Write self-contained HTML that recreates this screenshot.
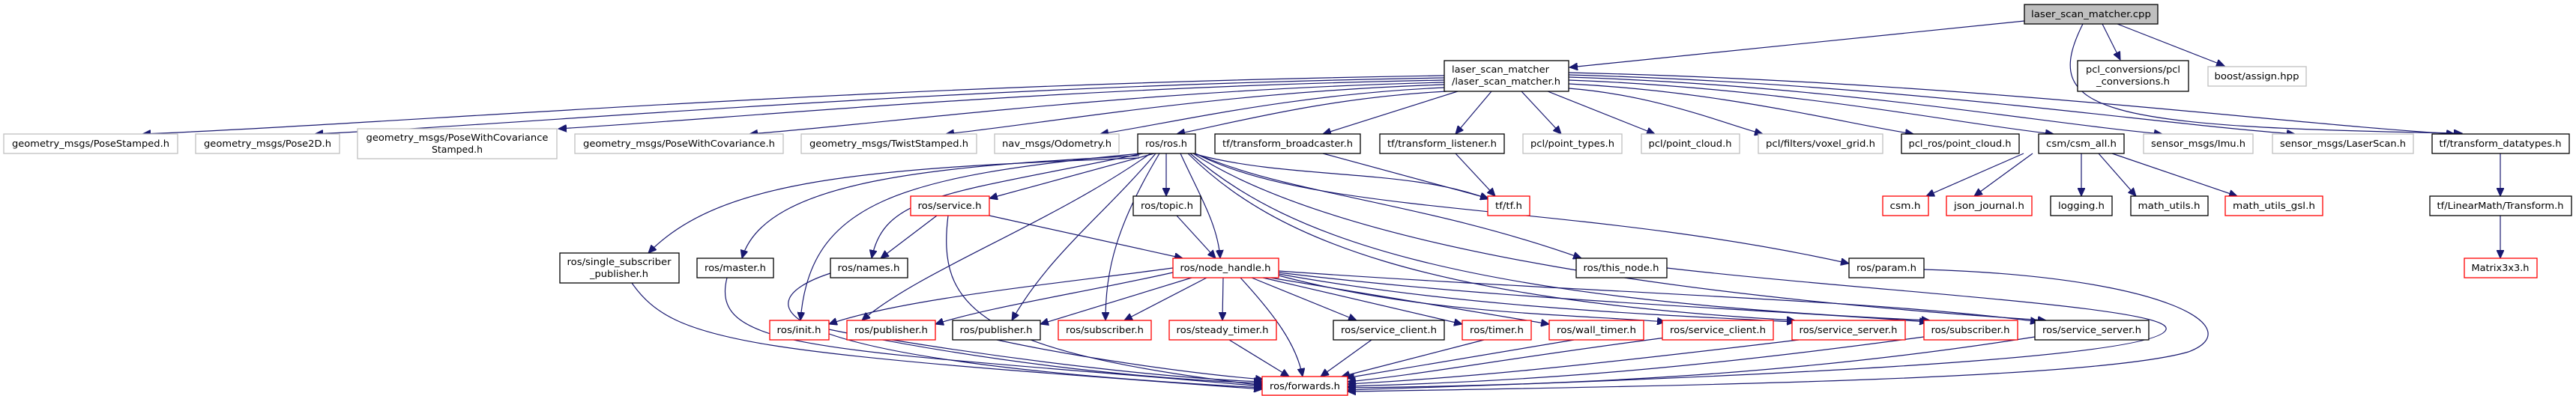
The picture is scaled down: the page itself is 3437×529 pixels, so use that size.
<!DOCTYPE html>
<html><head><meta charset="utf-8"><style>
html,body{margin:0;padding:0;background:#fff;}
svg{display:block;}
text{font-family:"DejaVu Sans","Liberation Sans",sans-serif;font-size:12px;fill:#000;}
.g{fill:#fff;stroke:#bfbfbf;stroke-width:1.3;}
.k{fill:#fff;stroke:#000;stroke-width:1.3;}
.r{fill:#fff;stroke:#ff0000;stroke-width:1.3;}
.e{fill:none;stroke:#191970;stroke-width:1.2;}
</style></head><body>
<svg id="s" width="3437" height="529" viewBox="0 0 3437 529" xmlns="http://www.w3.org/2000/svg">
<defs><marker id="a" markerUnits="userSpaceOnUse" markerWidth="12" markerHeight="10" refX="11" refY="5" orient="auto"><path d="M0,0 L11,5 L0,10 z" fill="#191970" stroke="#191970"/></marker></defs>
<g id="edges"></g>
<g id="nodes">
<rect x="2701" y="6" width="178" height="26" fill="#bfbfbf" stroke="#000" stroke-width="1.3"/><text x="2790" y="23" text-anchor="middle" textLength="160" lengthAdjust="spacingAndGlyphs">laser_scan_matcher.cpp</text>
<rect class="k" x="1927" y="81" width="166" height="41"/><text x="1937" y="97" textLength="130" lengthAdjust="spacingAndGlyphs">laser_scan_matcher</text><text x="1937" y="113" textLength="145" lengthAdjust="spacingAndGlyphs">/laser_scan_matcher.h</text>
<rect class="k" x="2772" y="81" width="148" height="41"/><text x="2846" y="97" text-anchor="middle" textLength="126" lengthAdjust="spacingAndGlyphs">pcl_conversions/pcl</text><text x="2846" y="113" text-anchor="middle" textLength="98" lengthAdjust="spacingAndGlyphs">_conversions.h</text>
<rect class="g" x="2946" y="89" width="131" height="26"/><text x="3011" y="106" text-anchor="middle" textLength="113" lengthAdjust="spacingAndGlyphs">boost/assign.hpp</text>

<rect class="g" x="5" y="179" width="232" height="26"/><text x="121" y="196" text-anchor="middle" textLength="210" lengthAdjust="spacingAndGlyphs">geometry_msgs/PoseStamped.h</text>
<rect class="g" x="261" y="179" width="192" height="26"/><text x="357" y="196" text-anchor="middle" textLength="170" lengthAdjust="spacingAndGlyphs">geometry_msgs/Pose2D.h</text>
<rect class="g" x="477" y="172" width="266" height="40"/><text x="610" y="188" text-anchor="middle" textLength="243" lengthAdjust="spacingAndGlyphs">geometry_msgs/PoseWithCovariance</text><text x="610" y="204" text-anchor="middle" textLength="68" lengthAdjust="spacingAndGlyphs">Stamped.h</text>
<rect class="g" x="767" y="179" width="278" height="26"/><text x="906" y="196" text-anchor="middle" textLength="256" lengthAdjust="spacingAndGlyphs">geometry_msgs/PoseWithCovariance.h</text>
<rect class="g" x="1069" y="179" width="234" height="26"/><text x="1186" y="196" text-anchor="middle" textLength="212" lengthAdjust="spacingAndGlyphs">geometry_msgs/TwistStamped.h</text>
<rect class="g" x="1327" y="179" width="166" height="26"/><text x="1410" y="196" text-anchor="middle" textLength="146" lengthAdjust="spacingAndGlyphs">nav_msgs/Odometry.h</text>
<rect class="k" x="1518" y="179" width="77" height="26"/><text x="1556" y="196" text-anchor="middle" textLength="56" lengthAdjust="spacingAndGlyphs">ros/ros.h</text>
<rect class="k" x="1621" y="179" width="194" height="26"/><text x="1718" y="196" text-anchor="middle" textLength="174" lengthAdjust="spacingAndGlyphs">tf/transform_broadcaster.h</text>
<rect class="k" x="1841" y="179" width="166" height="26"/><text x="1924" y="196" text-anchor="middle" textLength="146" lengthAdjust="spacingAndGlyphs">tf/transform_listener.h</text>
<rect class="g" x="2032" y="179" width="132" height="26"/><text x="2098" y="196" text-anchor="middle" textLength="112" lengthAdjust="spacingAndGlyphs">pcl/point_types.h</text>
<rect class="g" x="2190" y="179" width="131" height="26"/><text x="2255" y="196" text-anchor="middle" textLength="111" lengthAdjust="spacingAndGlyphs">pcl/point_cloud.h</text>
<rect class="g" x="2346" y="179" width="166" height="26"/><text x="2429" y="196" text-anchor="middle" textLength="146" lengthAdjust="spacingAndGlyphs">pcl/filters/voxel_grid.h</text>
<rect class="k" x="2537" y="179" width="157" height="26"/><text x="2615" y="196" text-anchor="middle" textLength="137" lengthAdjust="spacingAndGlyphs">pcl_ros/point_cloud.h</text>
<rect class="k" x="2720" y="179" width="114" height="26"/><text x="2777" y="196" text-anchor="middle" textLength="94" lengthAdjust="spacingAndGlyphs">csm/csm_all.h</text>
<rect class="g" x="2860" y="179" width="146" height="26"/><text x="2933" y="196" text-anchor="middle" textLength="126" lengthAdjust="spacingAndGlyphs">sensor_msgs/Imu.h</text>
<rect class="g" x="3032" y="179" width="188" height="26"/><text x="3126" y="196" text-anchor="middle" textLength="168" lengthAdjust="spacingAndGlyphs">sensor_msgs/LaserScan.h</text>
<rect class="k" x="3245" y="179" width="183" height="26"/><text x="3336" y="196" text-anchor="middle" textLength="163" lengthAdjust="spacingAndGlyphs">tf/transform_datatypes.h</text>

<rect class="r" x="1215" y="262" width="105" height="26"/><text x="1267" y="279" text-anchor="middle" textLength="85" lengthAdjust="spacingAndGlyphs">ros/service.h</text>
<rect class="k" x="1512" y="262" width="90" height="26"/><text x="1557" y="279" text-anchor="middle" textLength="70" lengthAdjust="spacingAndGlyphs">ros/topic.h</text>
<rect class="r" x="1985" y="262" width="56" height="26"/><text x="2013" y="279" text-anchor="middle" textLength="36" lengthAdjust="spacingAndGlyphs">tf/tf.h</text>
<rect class="r" x="2512" y="262" width="61" height="26"/><text x="2542" y="279" text-anchor="middle" textLength="41" lengthAdjust="spacingAndGlyphs">csm.h</text>
<rect class="r" x="2597" y="262" width="114" height="26"/><text x="2654" y="279" text-anchor="middle" textLength="94" lengthAdjust="spacingAndGlyphs">json_journal.h</text>
<rect class="k" x="2736" y="262" width="82" height="26"/><text x="2777" y="279" text-anchor="middle" textLength="62" lengthAdjust="spacingAndGlyphs">logging.h</text>
<rect class="k" x="2843" y="262" width="103" height="26"/><text x="2894" y="279" text-anchor="middle" textLength="83" lengthAdjust="spacingAndGlyphs">math_utils.h</text>
<rect class="r" x="2969" y="262" width="130" height="26"/><text x="3034" y="279" text-anchor="middle" textLength="110" lengthAdjust="spacingAndGlyphs">math_utils_gsl.h</text>
<rect class="k" x="3242" y="262" width="189" height="26"/><text x="3336" y="279" text-anchor="middle" textLength="169" lengthAdjust="spacingAndGlyphs">tf/LinearMath/Transform.h</text>

<rect class="k" x="747" y="338" width="159" height="40"/><text x="826" y="354" text-anchor="middle" textLength="139" lengthAdjust="spacingAndGlyphs">ros/single_subscriber</text><text x="826" y="370" text-anchor="middle" textLength="78" lengthAdjust="spacingAndGlyphs">_publisher.h</text>
<rect class="k" x="930" y="345" width="102" height="26"/><text x="981" y="362" text-anchor="middle" textLength="82" lengthAdjust="spacingAndGlyphs">ros/master.h</text>
<rect class="k" x="1108" y="345" width="103" height="26"/><text x="1159" y="362" text-anchor="middle" textLength="83" lengthAdjust="spacingAndGlyphs">ros/names.h</text>
<rect class="r" x="1565" y="345" width="141" height="26"/><text x="1635" y="362" text-anchor="middle" textLength="121" lengthAdjust="spacingAndGlyphs">ros/node_handle.h</text>
<rect class="k" x="2103" y="345" width="121" height="26"/><text x="2163" y="362" text-anchor="middle" textLength="101" lengthAdjust="spacingAndGlyphs">ros/this_node.h</text>
<rect class="k" x="2467" y="345" width="100" height="26"/><text x="2517" y="362" text-anchor="middle" textLength="80" lengthAdjust="spacingAndGlyphs">ros/param.h</text>
<rect class="r" x="3288" y="345" width="97" height="26"/><text x="3336" y="362" text-anchor="middle" textLength="77" lengthAdjust="spacingAndGlyphs">Matrix3x3.h</text>

<rect class="r" x="1027" y="428" width="79" height="26"/><text x="1066" y="445" text-anchor="middle" textLength="59" lengthAdjust="spacingAndGlyphs">ros/init.h</text>
<rect class="r" x="1130" y="428" width="118" height="26"/><text x="1189" y="445" text-anchor="middle" textLength="98" lengthAdjust="spacingAndGlyphs">ros/publisher.h</text>
<rect class="k" x="1271" y="428" width="117" height="26"/><text x="1329" y="445" text-anchor="middle" textLength="97" lengthAdjust="spacingAndGlyphs">ros/publisher.h</text>
<rect class="r" x="1412" y="428" width="124" height="26"/><text x="1474" y="445" text-anchor="middle" textLength="104" lengthAdjust="spacingAndGlyphs">ros/subscriber.h</text>
<rect class="r" x="1560" y="428" width="143" height="26"/><text x="1631" y="445" text-anchor="middle" textLength="123" lengthAdjust="spacingAndGlyphs">ros/steady_timer.h</text>
<rect class="k" x="1779" y="428" width="148" height="26"/><text x="1853" y="445" text-anchor="middle" textLength="128" lengthAdjust="spacingAndGlyphs">ros/service_client.h</text>
<rect class="r" x="1951" y="428" width="92" height="26"/><text x="1997" y="445" text-anchor="middle" textLength="72" lengthAdjust="spacingAndGlyphs">ros/timer.h</text>
<rect class="r" x="2067" y="428" width="126" height="26"/><text x="2130" y="445" text-anchor="middle" textLength="106" lengthAdjust="spacingAndGlyphs">ros/wall_timer.h</text>
<rect class="r" x="2218" y="428" width="148" height="26"/><text x="2292" y="445" text-anchor="middle" textLength="128" lengthAdjust="spacingAndGlyphs">ros/service_client.h</text>
<rect class="r" x="2391" y="428" width="151" height="26"/><text x="2466" y="445" text-anchor="middle" textLength="131" lengthAdjust="spacingAndGlyphs">ros/service_server.h</text>
<rect class="r" x="2567" y="428" width="125" height="26"/><text x="2629" y="445" text-anchor="middle" textLength="105" lengthAdjust="spacingAndGlyphs">ros/subscriber.h</text>
<rect class="k" x="2715" y="428" width="152" height="26"/><text x="2791" y="445" text-anchor="middle" textLength="132" lengthAdjust="spacingAndGlyphs">ros/service_server.h</text>

<rect class="r" x="1684" y="503" width="114" height="25"/><text x="1741" y="520" text-anchor="middle" textLength="94" lengthAdjust="spacingAndGlyphs">ros/forwards.h</text>
</g>
</svg>
<script>
var g=document.getElementById('edges'),NS='http://www.w3.org/2000/svg';
function P(d){var p=document.createElementNS(NS,'path');p.setAttribute('d',d);p.setAttribute('class','e');p.setAttribute('marker-end','url(#a)');g.appendChild(p);}
function L(a,b,c,d){P('M'+a+','+b+' L'+c+','+d);}
function C(){var a=arguments;P('M'+a[0]+','+a[1]+' C'+a[2]+','+a[3]+' '+a[4]+','+a[5]+' '+a[6]+','+a[7]);}
L(2701,28,2094,90);L(2805,32,2829,80);L(2825,32,2968,88);
C(2779,32,2720,150,2800,170,3285,178);
function LE(sx,sy,tx,ty){ty=ty||179;C(sx,sy,sx+(tx-sx)*0.45,sy+(ty-sy)*0.15,tx+(sx-tx)*0.2,ty-14,tx,ty);}
LE(1927,101,190);LE(1927,104,420);LE(1927,107,745,172);LE(1927,110,1000);LE(1927,113,1262);LE(1927,117,1468);LE(1930,122,1570);
L(1945,122,1765,179);L(1990,122,1942,179);L(2030,122,2083,179);L(2065,122,2208,179);
LE(2093,118,2352);LE(2093,112,2553);LE(2093,107,2740);LE(2093,103,2885);LE(2093,100,3062);LE(2093,97,3275);
L(1765,205,1986,265);L(1942,205,1995,262);
L(2700,205,2570,262);L(2712,205,2634,262);L(2777,205,2777,262);L(2800,205,2850,262);L(2818,205,2985,262);
L(3336,205,3336,262);L(3336,288,3336,345);
L(1540,205,1320,265);L(1556,205,1556,262);C(1575,205,1600,260,1625,300,1628,345);
C(1525,205,1260,260,1180,260,1163,345);
C(1520,208,1250,222,1020,240,990,345);
C(1520,211,1150,225,960,240,865,338);
C(1522,205,1200,235,1080,270,1068,428);
C(1535,205,1400,300,1230,360,1150,428);
C(1542,205,1470,290,1400,340,1350,428);
C(1547,205,1490,300,1475,360,1475,428);
C(1595,206,1720,240,1880,225,1986,266);
C(1595,205,1720,260,1900,270,2110,345);
C(1595,205,1760,290,2100,270,2467,352);
C(1592,205,1800,340,2300,400,2730,428);
C(1588,205,1720,320,1950,400,2575,428);
C(1585,205,1700,320,1900,400,2395,428);
L(1250,288,1175,345);L(1320,288,1578,345);C(1265,288,1250,410,1300,470,1686,515);
L(1570,288,1622,345);
C(1565,358,1400,380,1200,400,1106,433);C(1565,364,1450,390,1320,410,1248,433);L(1590,371,1388,433);L(1610,371,1500,428);
L(1632,371,1631,428);L(1670,371,1810,428);L(1685,371,1951,433);L(1695,371,2067,433);
C(1706,368,1900,420,2100,420,2222,430);C(1706,366,1950,410,2200,420,2395,430);C(1706,364,2000,400,2300,410,2572,430);C(1706,362,2100,390,2500,400,2720,430);
C(1655,371,1700,420,1730,460,1738,503);
C(1106,440,1300,480,1500,505,1684,512);C(1190,454,1350,480,1550,505,1684,510);C(1330,454,1450,480,1600,500,1686,507);
L(1640,454,1720,503);L(1830,454,1762,503);L(1980,454,1790,503);L(2100,454,1796,505);
C(2230,450,2000,480,1900,500,1798,510);C(2400,454,2100,490,1950,505,1798,513);C(2567,450,2200,500,2000,510,1798,516);C(2715,450,2400,500,2100,515,1798,518);
C(1108,365,1000,400,980,480,1684,518);C(970,371,945,470,1100,465,1684,516);C(843,378,900,460,1000,470,1684,520);
P('M2224,358 C2500,390 2900,410 2890,440 C2880,480 2300,505 1798,521');
P('M2567,360 C2900,370 3000,440 2920,470 C2800,505 2300,515 1798,523');
</script>
</body></html>
